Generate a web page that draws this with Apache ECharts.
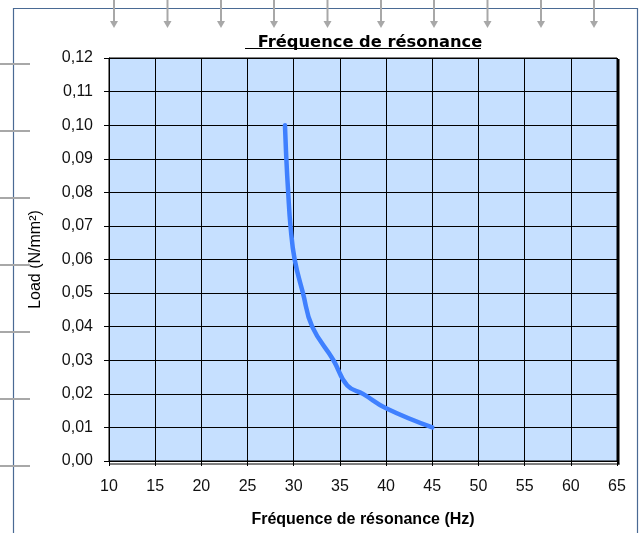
<!DOCTYPE html>
<html>
<head>
<meta charset="utf-8">
<script src="https://cdn.jsdelivr.net/npm/echarts@6/dist/echarts.min.js"></script>
<style>
  html, body { margin: 0; padding: 0; background: #fff; }
  #main { width: 644px; height: 533px; }
</style>
</head>
<body>
<div id="main"></div>
<script>
// frequency (Hz) vs load (N/mm²)
const freq = [29.05, 29.2, 29.4, 29.65, 30.1, 31.0, 32.0, 34.3, 35.8, 37.5, 40.0, 45.0];
const load = [0.10, 0.09, 0.08, 0.07, 0.06, 0.05, 0.04, 0.03, 0.0225, 0.02, 0.0157, 0.01];
const xTicks = [10, 65, 5];      // min, max, step
const yTicks = [0, 0.12, 0.01];

// decorations around the frame (sheet markers)
const arrowX = [114, 167.5, 221, 274, 327.5, 381, 434, 487.5, 541, 594];
const markY = [64, 131, 198, 265, 332, 399, 466];

let myChart = echarts.init(document.getElementById('main'));

function decorations() {
    let els = [];
    // outer frame
    els.push({
        type: 'rect', z: 0, silent: true,
        shape: { x: 13.5, y: 8.5, width: 624, height: 600 },
        style: { fill: null, stroke: '#4a6a94', lineWidth: 1.2 }
    });
    arrowX.forEach(x => {
        els.push({ type: 'line', z: 5, shape: { x1: x, y1: 0, x2: x, y2: 24 }, style: { stroke: '#a8a8a8', lineWidth: 2 } });
        els.push({ type: 'polygon', z: 5, shape: { points: [[x - 4, 21], [x + 4, 21], [x, 28]] }, style: { fill: '#a8a8a8' } });
    });
    markY.forEach(y => {
        els.push({ type: 'line', z: 5, shape: { x1: 0, y1: y, x2: 30, y2: y }, style: { stroke: '#a8a8a8', lineWidth: 2 } });
    });
    // title underline
    els.push({ type: 'line', z: 5, shape: { x1: 245, y1: 48.5, x2: 481, y2: 48.5 }, style: { stroke: '#000', lineWidth: 1.2 } });
    // plot area shadow (right / bottom edge)
    els.push({ type: 'line', z: 5, shape: { x1: 618.5, y1: 59, x2: 618.5, y2: 464.5 }, style: { stroke: '#000', lineWidth: 2 } });
    els.push({ type: 'line', z: 5, shape: { x1: 110, y1: 464, x2: 619.5, y2: 464 }, style: { stroke: '#000', lineWidth: 1 } });
    return els;
}

const option = {
    backgroundColor: '#fff',
    animation: false,
    title: {
        text: 'Fréquence de résonance',
        left: 365, top: 30, textAlign: 'center',
        textStyle: { fontFamily: 'DejaVu Sans', fontWeight: 'bold', fontSize: 16.3, color: '#000' }
    },
    graphic: decorations(),
    grid: {
        left: 109, top: 58, width: 508, height: 405,
        show: true,
        backgroundColor: '#c6e0ff',
        borderColor: '#000', borderWidth: 1
    },
    xAxis: {
        type: 'value',
        min: xTicks[0], max: xTicks[1], interval: xTicks[2],
        name: 'Fréquence de résonance (Hz)',
        nameLocation: 'middle', nameGap: 51,
        nameTextStyle: { fontFamily: 'Liberation Sans', fontWeight: 'bold', fontSize: 16, color: '#000' },
        axisLine: { show: true, lineStyle: { color: '#000', width: 1 } },
        axisTick: { show: true, length: 5, lineStyle: { color: '#000' } },
        axisLabel: { margin: 18, fontFamily: 'Liberation Sans', fontSize: 16, color: '#111' },
        splitLine: { show: true, lineStyle: { color: '#000', width: 1 } }
    },
    yAxis: {
        type: 'value',
        min: yTicks[0], max: yTicks[1], interval: yTicks[2],
        name: 'Load (N/mm²)',
        nameLocation: 'middle', nameGap: 65,
        nameTextStyle: { fontFamily: 'Liberation Sans', fontSize: 16, color: '#000' },
        axisLine: { show: true, lineStyle: { color: '#000', width: 1 } },
        axisTick: { show: true, length: 5, lineStyle: { color: '#000' } },
        axisLabel: {
            margin: 16, fontFamily: 'Liberation Sans', fontSize: 16, color: '#111',
            formatter: v => v.toFixed(2).replace('.', ',')
        },
        splitLine: { show: true, lineStyle: { color: '#000', width: 1 } }
    },
    series: [{
        type: 'line',
        data: freq.map((f, i) => [f, load[i]]),
        smooth: 0.45,
        showSymbol: false,
        lineStyle: { color: '#3f80ff', width: 4.5, cap: 'round' }
    }]
};

myChart.setOption(option);
</script>
</body>
</html>
